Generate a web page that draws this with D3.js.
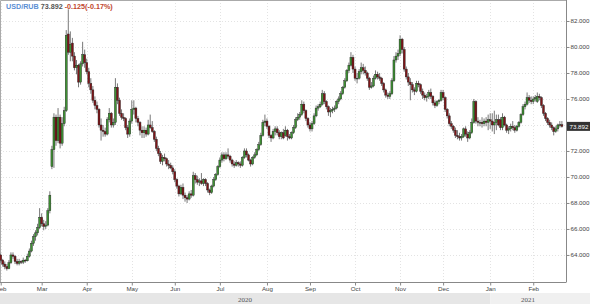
<!DOCTYPE html>
<html>
<head>
<meta charset="utf-8">
<script src="https://cdn.jsdelivr.net/npm/d3@7"></script>
<style>
  body { margin: 0; background: #fff; }
  svg { display: block; }
</style>
</head>
<body>
<div class="viz"></div>
<script>
'use strict'

const width = 590,
  height = 304;
const plot = {left: 0, top: 0, right: 566, bottom: 282};

// daily candles, [day, open, high, low, close]
const feb20 = [
  [3, 64.0, 64.1, 63.4, 63.6], [4, 63.6, 63.7, 63.1, 63.3], [5, 63.3, 63.5, 62.9, 63.1],
  [6, 63.1, 63.3, 62.8, 62.95], [7, 62.95, 63.6, 62.9, 63.4], [10, 63.4, 64.2, 63.3, 64.0],
  [11, 64.0, 64.2, 63.7, 63.9], [12, 63.9, 64.0, 63.3, 63.5], [13, 63.5, 63.7, 63.2, 63.35],
  [14, 63.35, 63.7, 63.2, 63.5], [17, 63.5, 63.6, 63.3, 63.45], [18, 63.45, 63.8, 63.3, 63.6],
  [19, 63.6, 63.7, 63.4, 63.55], [20, 63.55, 64.1, 63.5, 63.9], [21, 63.9, 64.5, 63.8, 64.3],
  [24, 64.3, 65.1, 64.2, 64.9], [25, 64.9, 65.6, 64.7, 65.4], [26, 65.4, 65.9, 65.1, 65.7],
  [27, 65.7, 66.4, 65.5, 66.1], [28, 66.1, 67.6, 66.0, 66.9]
];
const mar20 = [
  [2, 66.9, 67.2, 66.2, 66.4], [3, 66.4, 66.7, 65.9, 66.2], [4, 66.2, 66.6, 66.0, 66.3],
  [5, 66.3, 67.6, 66.2, 67.4], [6, 67.4, 68.9, 67.2, 68.6], [9, 70.8, 72.4, 70.6, 72.1],
  [10, 72.1, 74.9, 70.7, 74.6], [11, 74.6, 74.8, 72.4, 72.8], [12, 72.8, 75.3, 72.6, 74.6],
  [13, 74.6, 74.8, 72.2, 72.6], [16, 72.6, 74.6, 72.4, 74.1], [17, 74.1, 75.4, 73.9, 75.1],
  [18, 75.1, 81.3, 75.0, 80.9], [19, 81.0, 82.9, 79.4, 79.6], [20, 79.6, 81.2, 78.9, 80.2],
  [23, 80.3, 80.7, 78.9, 79.3], [24, 79.3, 79.6, 78.2, 78.4], [25, 78.4, 79.0, 77.9, 78.6],
  [26, 78.6, 78.7, 76.9, 77.3], [27, 77.3, 78.9, 77.1, 78.7], [30, 78.7, 80.4, 78.5, 79.4],
  [31, 79.4, 79.8, 78.4, 78.8]
];
const apr20 = [
  [1, 78.8, 79.1, 77.9, 78.1], [2, 78.1, 78.4, 76.9, 77.2], [3, 77.2, 77.6, 76.4, 76.7],
  [6, 76.7, 77.0, 75.7, 75.9], [7, 75.9, 76.2, 75.2, 75.5], [8, 75.5, 75.8, 74.9, 75.2],
  [9, 75.2, 75.3, 73.8, 74.0], [10, 74.0, 74.5, 72.8, 73.6], [13, 73.6, 74.0, 73.1, 73.5],
  [14, 73.5, 73.8, 73.1, 73.3], [15, 73.3, 74.6, 73.2, 74.4], [16, 74.4, 75.3, 74.2, 74.9],
  [17, 74.9, 75.0, 73.8, 74.0], [20, 74.0, 74.5, 73.8, 74.2], [21, 74.2, 77.6, 74.0, 76.9],
  [22, 76.9, 77.2, 75.6, 75.9], [23, 75.9, 76.1, 74.7, 74.9], [24, 74.9, 75.2, 74.4, 74.6],
  [27, 74.6, 74.9, 74.3, 74.5], [28, 74.5, 74.6, 73.6, 73.8], [29, 73.8, 74.0, 73.0, 73.3],
  [30, 73.3, 74.5, 73.1, 74.3]
];
const may20 = [
  [1, 74.3, 75.9, 74.1, 75.2], [4, 75.2, 75.9, 74.8, 75.3], [5, 75.3, 75.4, 74.2, 74.5],
  [6, 74.5, 74.7, 73.9, 74.2], [7, 74.2, 74.3, 73.2, 73.6], [8, 73.6, 73.9, 73.0, 73.4],
  [11, 73.4, 73.9, 73.0, 73.6], [12, 73.6, 73.8, 73.1, 73.3], [13, 73.3, 74.4, 73.2, 74.0],
  [14, 74.0, 74.8, 73.7, 73.8], [15, 73.8, 74.3, 73.4, 73.5], [18, 73.5, 73.6, 72.7, 72.9],
  [19, 72.9, 73.1, 72.0, 72.2], [20, 72.2, 72.4, 71.6, 71.8], [21, 71.8, 72.0, 71.0, 71.2],
  [22, 71.2, 71.7, 70.9, 71.5], [25, 71.5, 71.8, 71.2, 71.4], [26, 71.4, 71.5, 70.8, 71.0],
  [27, 71.0, 71.3, 70.6, 70.9], [28, 70.9, 71.1, 70.6, 70.7], [29, 70.7, 70.9, 70.2, 70.4]
];
const jun20 = [
  [1, 70.4, 70.6, 69.6, 69.8], [2, 69.8, 69.9, 69.1, 69.3], [3, 69.3, 69.4, 68.5, 68.7],
  [4, 68.7, 69.4, 68.6, 69.2], [5, 69.2, 69.5, 68.3, 68.6], [8, 68.6, 68.8, 68.1, 68.4],
  [9, 68.4, 68.6, 68.0, 68.3], [10, 68.3, 68.9, 68.2, 68.7], [11, 68.7, 69.0, 68.4, 68.6],
  [12, 68.6, 70.4, 68.5, 70.1], [15, 70.1, 70.3, 69.5, 69.8], [16, 69.8, 70.1, 69.4, 69.6],
  [17, 69.6, 69.9, 69.3, 69.7], [18, 69.7, 70.3, 69.4, 69.5], [19, 69.5, 69.9, 69.3, 69.8],
  [22, 69.8, 69.9, 69.3, 69.5], [23, 69.5, 69.6, 68.8, 69.0], [24, 69.0, 69.1, 68.6, 68.8],
  [25, 68.8, 69.4, 68.7, 69.3], [26, 69.3, 70.0, 69.2, 69.8], [29, 69.8, 70.3, 69.7, 70.2],
  [30, 70.2, 70.9, 70.1, 70.8]
];
const jul20 = [
  [1, 70.8, 71.5, 70.7, 71.3], [2, 71.3, 71.9, 71.1, 71.7], [3, 71.7, 71.9, 71.2, 71.4],
  [6, 71.4, 71.9, 71.3, 71.7], [7, 71.7, 72.2, 71.4, 71.6], [8, 71.6, 71.7, 71.1, 71.3],
  [9, 71.3, 71.4, 70.8, 71.0], [10, 71.0, 71.2, 70.7, 70.9], [13, 70.9, 71.3, 70.8, 71.1],
  [14, 71.1, 71.2, 70.8, 71.0], [15, 71.0, 71.2, 70.7, 70.9], [16, 70.9, 71.6, 70.8, 71.5],
  [17, 71.5, 72.2, 71.4, 72.0], [20, 72.0, 72.2, 71.5, 71.7], [21, 71.7, 71.8, 71.2, 71.3],
  [22, 71.3, 71.4, 70.8, 71.0], [23, 71.0, 71.6, 70.9, 71.5], [24, 71.5, 71.9, 71.4, 71.7],
  [27, 71.7, 72.2, 71.6, 72.1], [28, 72.1, 72.7, 72.0, 72.5], [29, 72.5, 73.4, 72.4, 73.2],
  [30, 73.2, 74.4, 73.1, 74.2], [31, 74.2, 74.8, 73.9, 74.3]
];
const aug20 = [
  [3, 74.3, 74.5, 73.7, 73.9], [4, 73.9, 74.0, 73.0, 73.2], [5, 73.2, 73.3, 72.7, 73.0],
  [6, 73.0, 73.7, 72.9, 73.5], [7, 73.5, 73.9, 73.2, 73.7], [10, 73.7, 73.9, 73.2, 73.4],
  [11, 73.4, 73.6, 72.9, 73.1], [12, 73.1, 73.5, 72.9, 73.4], [13, 73.4, 73.7, 72.9, 73.0],
  [14, 73.2, 73.9, 73.1, 73.6], [17, 73.6, 73.7, 72.8, 73.1], [18, 73.1, 73.3, 72.9, 73.0],
  [19, 73.0, 73.5, 72.9, 73.4], [20, 73.4, 74.0, 73.3, 73.8], [21, 73.8, 74.6, 73.7, 74.4],
  [24, 74.4, 74.9, 74.3, 74.6], [25, 74.6, 75.0, 74.4, 74.8], [26, 74.8, 75.9, 74.7, 75.6],
  [27, 75.6, 75.8, 74.9, 75.1], [28, 75.1, 75.2, 74.3, 74.5], [31, 74.5, 74.6, 73.8, 74.0]
];
const sep20 = [
  [1, 74.0, 74.2, 73.5, 73.7], [2, 73.7, 74.3, 73.5, 74.1], [3, 74.1, 74.9, 74.0, 74.7],
  [4, 74.7, 75.5, 74.6, 75.3], [7, 75.3, 75.6, 75.1, 75.4], [8, 75.4, 75.8, 75.3, 75.6],
  [9, 75.6, 76.7, 75.5, 76.4], [10, 76.4, 76.6, 75.6, 75.8], [11, 75.8, 75.9, 75.2, 75.4],
  [14, 75.4, 75.5, 74.7, 75.0], [15, 75.0, 75.3, 74.6, 75.1], [16, 75.1, 75.4, 74.9, 75.2],
  [17, 75.2, 75.5, 75.0, 75.3], [18, 75.3, 75.9, 75.2, 75.8], [21, 75.8, 76.2, 75.6, 76.0],
  [22, 76.0, 76.6, 75.9, 76.4], [23, 76.4, 77.0, 76.3, 76.9], [24, 76.9, 77.6, 76.8, 77.4],
  [25, 77.4, 78.3, 77.3, 78.2], [28, 78.2, 78.8, 78.0, 78.6], [29, 78.6, 79.6, 78.5, 79.2],
  [30, 79.2, 79.4, 78.0, 78.3]
];
const oct20 = [
  [1, 78.3, 78.5, 77.4, 77.6], [2, 77.6, 78.0, 77.2, 77.6], [5, 77.6, 78.3, 77.5, 78.1],
  [6, 78.1, 78.8, 77.9, 78.4], [7, 78.4, 78.7, 77.9, 78.2], [8, 78.2, 78.5, 77.8, 78.0],
  [9, 78.0, 78.1, 77.4, 77.6], [12, 77.6, 77.7, 76.7, 76.9], [13, 76.9, 77.3, 76.8, 77.0],
  [14, 77.0, 77.8, 76.9, 77.6], [15, 77.6, 78.2, 77.5, 77.9], [16, 77.9, 78.1, 77.5, 77.7],
  [19, 77.7, 78.0, 77.4, 77.6], [20, 77.6, 77.7, 77.0, 77.2], [21, 77.2, 77.3, 76.5, 76.7],
  [22, 76.7, 76.8, 76.1, 76.3], [23, 76.3, 76.5, 76.0, 76.2], [26, 76.2, 76.6, 76.0, 76.4],
  [27, 76.4, 77.6, 76.3, 77.4], [28, 77.4, 79.3, 77.3, 79.0], [29, 79.0, 79.6, 78.8, 79.3],
  [30, 79.3, 79.8, 79.0, 79.5]
];
const nov20 = [
  [2, 79.5, 80.9, 79.3, 80.6], [3, 80.6, 80.7, 79.5, 79.8], [4, 79.8, 80.0, 78.1, 78.3],
  [5, 78.3, 78.5, 77.5, 77.7], [6, 77.7, 78.0, 77.0, 77.3], [9, 77.3, 77.6, 75.9, 77.1],
  [10, 77.1, 77.3, 76.5, 76.7], [11, 76.7, 76.9, 76.3, 76.6], [12, 76.6, 77.4, 76.5, 77.2],
  [13, 77.2, 77.4, 76.9, 77.1], [16, 77.1, 77.2, 76.4, 76.6], [17, 76.6, 76.8, 76.0, 76.3],
  [18, 76.3, 76.5, 75.9, 76.1], [19, 76.1, 76.4, 75.8, 76.2], [20, 76.2, 76.7, 76.0, 76.5],
  [23, 76.5, 76.8, 76.0, 76.2], [24, 76.2, 76.3, 75.5, 75.7], [25, 75.7, 75.9, 75.3, 75.5],
  [26, 75.5, 75.9, 75.4, 75.8], [27, 75.8, 76.0, 75.6, 75.9], [30, 75.9, 76.7, 75.8, 76.5]
];
const dec20 = [
  [1, 76.5, 76.7, 75.9, 76.1], [2, 76.1, 76.2, 75.0, 75.2], [3, 75.2, 75.3, 74.5, 74.7],
  [4, 74.7, 74.9, 73.9, 74.1], [7, 74.1, 74.3, 73.7, 73.9], [8, 73.9, 74.0, 73.4, 73.6],
  [9, 73.6, 73.8, 73.0, 73.2], [10, 73.2, 73.6, 72.9, 73.1], [11, 73.1, 73.4, 72.8, 73.0],
  [14, 73.0, 73.3, 72.8, 73.1], [15, 73.1, 73.8, 73.0, 73.7], [16, 73.7, 73.9, 73.1, 73.3],
  [17, 73.3, 73.5, 72.7, 73.0], [18, 73.0, 73.6, 72.9, 73.4], [21, 73.4, 74.5, 73.3, 74.2],
  [22, 74.2, 76.0, 74.1, 75.8], [23, 75.8, 75.9, 74.1, 74.3], [24, 74.3, 74.6, 73.9, 74.2],
  [25, 74.2, 74.4, 73.9, 74.2], [28, 74.2, 74.6, 73.8, 74.1], [29, 74.1, 74.5, 73.9, 74.3],
  [30, 74.3, 74.6, 73.9, 74.2], [31, 74.2, 74.8, 73.6, 74.4]
];
const jan21 = [
  [1, 74.4, 74.9, 73.7, 74.3], [4, 74.3, 74.9, 73.5, 74.0], [5, 74.0, 75.1, 73.3, 74.2],
  [6, 74.2, 74.8, 73.6, 74.4], [7, 74.4, 74.8, 73.9, 74.0], [8, 74.4, 74.6, 73.6, 73.8],
  [11, 73.8, 74.9, 73.6, 74.6], [12, 74.6, 74.7, 73.9, 74.0], [13, 74.0, 74.1, 73.4, 73.6],
  [14, 73.6, 73.9, 73.3, 73.7], [15, 73.7, 74.1, 73.5, 73.9], [18, 73.9, 74.3, 73.6, 73.8],
  [19, 73.8, 74.0, 73.4, 73.6], [20, 73.6, 74.0, 73.5, 73.9], [21, 73.9, 74.3, 73.8, 74.2],
  [22, 74.2, 74.9, 74.1, 74.8], [25, 74.8, 75.6, 74.7, 75.4], [26, 75.4, 75.8, 75.2, 75.6],
  [27, 75.6, 76.5, 75.5, 76.1], [28, 76.1, 76.3, 75.7, 75.9], [29, 75.9, 76.2, 75.6, 75.8]
];
const feb21 = [
  [1, 75.8, 76.2, 75.6, 76.0], [2, 76.0, 76.3, 75.8, 76.1], [3, 75.8, 76.5, 75.7, 76.2],
  [4, 76.2, 76.4, 75.9, 76.1], [5, 76.1, 76.2, 75.3, 75.5], [8, 75.5, 75.6, 74.7, 74.9],
  [9, 74.9, 75.0, 74.3, 74.5], [10, 74.5, 74.6, 74.0, 74.2], [11, 74.2, 74.4, 73.8, 74.0],
  [12, 74.0, 74.2, 73.6, 73.8], [15, 73.8, 73.9, 73.2, 73.5], [16, 73.5, 73.9, 73.4, 73.7],
  [17, 73.7, 74.1, 73.5, 74.0], [18, 74.0, 74.3, 73.8, 74.017], [19, 74.017, 74.3, 73.8, 73.892]
];

// [year, month (0-based), candles]
const months = [
  [2020, 1, feb20], [2020, 2, mar20], [2020, 3, apr20], [2020, 4, may20],
  [2020, 5, jun20], [2020, 6, jul20], [2020, 7, aug20], [2020, 8, sep20],
  [2020, 9, oct20], [2020, 10, nov20], [2020, 11, dec20], [2021, 0, jan21],
  [2021, 1, feb21]
];
const y_ticks = [64, 66, 68, 70, 72, 74, 76, 78, 80, 82];
const symbol = 'USD/RUB';

let rows = [];
months.forEach(([yr, mo, list]) => {
  list.forEach(r => rows.push({
    date: new Date(yr, mo, r[0]),
    open: r[1], high: r[2], low: r[3], close: r[4]
  }));
});
rows.forEach((d, i) => d.i = i);

const last = rows[rows.length - 1],
  prev = rows[rows.length - 2];
const change = last.close - prev.close;

// plain hyphen for negative numbers, as in the source
const locale = d3.formatLocale({decimal: '.', thousands: ',', grouping: [3], currency: ['', ''], minus: '-'});
const fmt3 = locale.format('.3f'),
  fmt2 = locale.format('.2f');

let x = d3.scaleLinear()
  .domain([0, rows.length - 1])
  .range([0.7, 561.9]);
let y = d3.scaleLinear()
  .domain([61.92, 83.615])
  .range([plot.bottom, plot.top]);

// first trading day of each month
let month_idx = rows.filter((d, i) => i === 0 || d.date.getMonth() !== rows[i - 1].date.getMonth())
  .map(d => d.i);
let year_idx = month_idx.filter(i => rows[i].date.getMonth() === 0);

let svg = d3.select('.viz')
  .append('svg')
  .attr('width', width)
  .attr('height', height)
  .style('font-family', '"Liberation Sans", Arial, sans-serif');

svg.append('defs').append('clipPath')
  .attr('id', 'plot_clip')
  .append('rect')
  .attr('x', plot.left)
  .attr('y', plot.top)
  .attr('width', plot.right - plot.left)
  .attr('height', plot.bottom - plot.top);

// year band
let split = x(year_idx[0]);
let years = [
  {label: rows[0].date.getFullYear(), x0: 0, x1: split, fill: '#e6e6e6'},
  {label: rows[year_idx[0]].date.getFullYear(), x0: split, x1: plot.right, fill: '#f0f0f0'}
];
svg.append('g')
  .selectAll('rect')
  .data(years)
  .join('rect')
  .attr('x', d => d.x0)
  .attr('y', 293)
  .attr('width', (d, i) => (i === years.length - 1 ? width : d.x1) - d.x0)
  .attr('height', height - 293)
  .attr('fill', d => d.fill);
svg.append('g')
  .selectAll('text')
  .data(years)
  .join('text')
  .attr('x', d => (d.x0 + d.x1) / 2)
  .attr('y', 301.5)
  .attr('text-anchor', 'middle')
  .style('font-family', '"Liberation Serif", serif')
  .style('font-size', '7px')
  .attr('fill', '#555')
  .text(d => d.label);

// grid
let grid = svg.append('g')
  .attr('stroke', '#dcdcdc')
  .attr('stroke-width', 0.8)
  .attr('stroke-dasharray', '1,2');
grid.selectAll('.h')
  .data(y_ticks)
  .join('line')
  .attr('x1', plot.left)
  .attr('x2', plot.right)
  .attr('y1', d => Math.round(y(d)) + 0.5)
  .attr('y2', d => Math.round(y(d)) + 0.5);
grid.selectAll('.v')
  .data(month_idx)
  .join('line')
  .attr('x1', d => Math.round(x(d)) + 0.5)
  .attr('x2', d => Math.round(x(d)) + 0.5)
  .attr('y1', plot.top)
  .attr('y2', plot.bottom);

// frame
svg.append('path')
  .attr('d', `M${plot.left + 0.5},${plot.bottom}V${plot.top + 0.5}H${plot.right}`)
  .attr('fill', 'none')
  .attr('stroke', '#aaa');

// candles
let candles = svg.append('g')
  .attr('clip-path', 'url(#plot_clip)')
  .selectAll('g')
  .data(rows)
  .join('g');
candles.append('line')
  .attr('x1', d => x(d.i))
  .attr('x2', d => x(d.i))
  .attr('y1', d => y(d.high))
  .attr('y2', d => y(d.low))
  .attr('stroke', '#777')
  .attr('stroke-width', 1);
candles.append('rect')
  .attr('x', d => x(d.i) - 1)
  .attr('width', 2)
  .attr('y', d => y(Math.max(d.open, d.close)))
  .attr('height', d => Math.max(0.8, Math.abs(y(d.open) - y(d.close))))
  .attr('fill', d => d.close >= d.open ? '#3f9234' : '#7e1518')
  .attr('stroke', '#1e1e1e')
  .attr('stroke-width', 0.4);

// right axis
let y_axis = svg.append('g')
  .attr('transform', `translate(${plot.right + 0.5},0)`)
  .call(d3.axisRight(y)
    .tickValues(y_ticks)
    .tickFormat(fmt3)
    .tickSize(3)
    .tickSizeOuter(0)
    .tickPadding(1));
y_axis.select('.domain')
  .attr('d', `M0,${plot.top}V${plot.bottom}`)
  .attr('stroke', '#888');
y_axis.selectAll('.tick line').attr('stroke', '#888');
y_axis.selectAll('.tick text')
  .attr('fill', '#444')
  .style('font-size', '6.2px')
  .style('font-family', '"Liberation Sans", Arial, sans-serif');

// bottom axis
let x_axis = svg.append('g')
  .attr('transform', `translate(0,${plot.bottom + 0.5})`)
  .call(d3.axisBottom(x)
    .tickValues(month_idx)
    .tickFormat(i => d3.timeFormat('%b')(rows[i].date))
    .tickSize(3)
    .tickSizeOuter(0)
    .tickPadding(1.5));
x_axis.select('.domain')
  .attr('d', `M${plot.left},0H${plot.right + 0.5}`)
  .attr('stroke', '#888');
x_axis.selectAll('.tick line').attr('stroke', '#888');
x_axis.selectAll('.tick text')
  .attr('fill', '#444')
  .style('font-size', '6.2px')
  .style('font-family', '"Liberation Sans", Arial, sans-serif');

// last price tag
let tag = svg.append('g')
  .attr('transform', `translate(${plot.right + 1},${y(last.close)})`);
tag.append('rect')
  .attr('x', 0)
  .attr('y', -4.5)
  .attr('width', width - plot.right - 1)
  .attr('height', 9)
  .attr('fill', '#333');
tag.append('text')
  .attr('x', 2.5)
  .attr('y', 2.3)
  .attr('fill', '#fff')
  .style('font-size', '6.2px')
  .text(fmt3(last.close));

// title
let title = svg.append('text')
  .attr('x', 6)
  .attr('y', 9)
  .style('font-size', '7.2px')
  .style('font-weight', 'bold');
title.append('tspan')
  .attr('fill', '#5b8fd4')
  .text(symbol);
title.append('tspan')
  .attr('fill', '#555')
  .text(' ' + fmt3(last.close));
title.append('tspan')
  .attr('fill', '#c0452d')
  .text(' ' + fmt3(change) + '(' + fmt2(change / prev.close * 100) + '%)');
</script>
</body>
</html>
